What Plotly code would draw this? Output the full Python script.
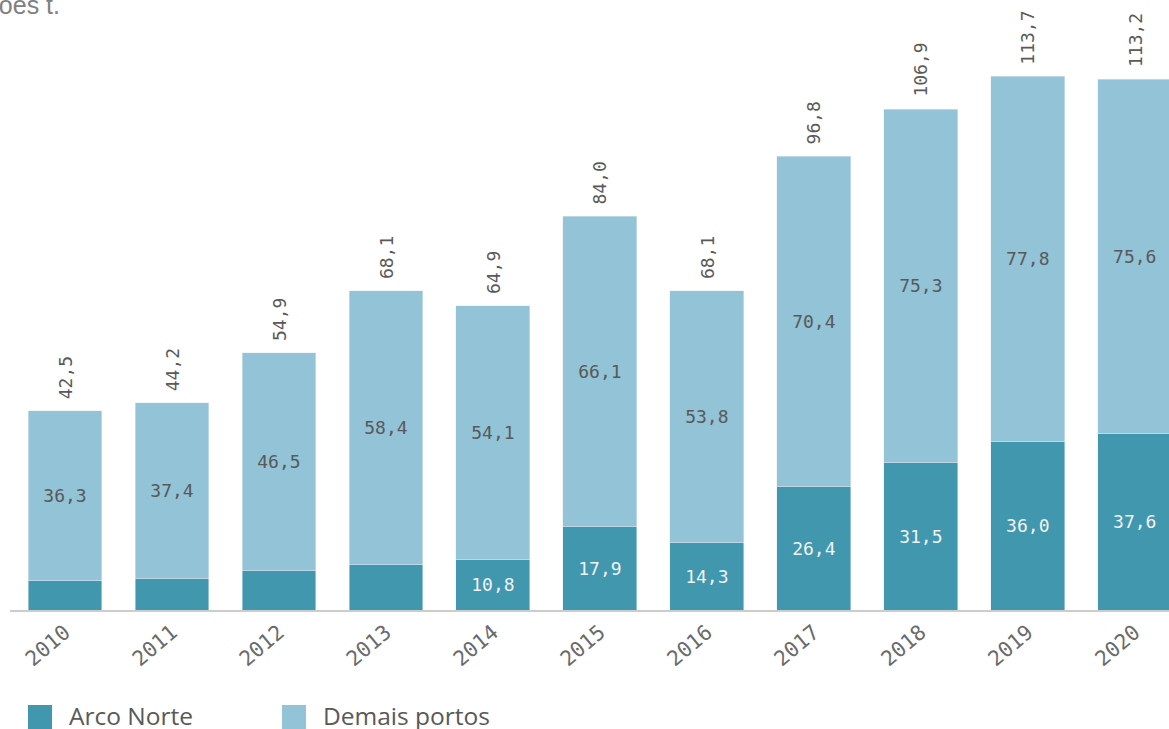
import plotly.graph_objects as go

years = ["2010", "2011", "2012", "2013", "2014", "2015", "2016", "2017", "2018", "2019", "2020"]
arco_norte = [6.2, 6.8, 8.4, 9.7, 10.8, 17.9, 14.3, 26.4, 31.5, 36.0, 37.6]
demais_portos = [36.3, 37.4, 46.5, 58.4, 54.1, 66.1, 53.8, 70.4, 75.3, 77.8, 75.6]
totals = [42.5, 44.2, 54.9, 68.1, 64.9, 84.0, 68.1, 96.8, 106.9, 113.7, 113.2]
show_arco_label = [False, False, False, False, True, True, True, True, True, True, True]

DARK = "#4097AE"
LIGHT = "#92C3D6"
MONO = "DejaVu Sans Mono"


def fmt(v):
    return f"{v:.1f}".replace(".", ",")


arco_text = [fmt(v) if s else "" for v, s in zip(arco_norte, show_arco_label)]
demais_text = [fmt(v) for v in demais_portos]

fig = go.Figure()
fig.add_trace(go.Bar(
    x=years, y=arco_norte, name="Arco Norte", marker_color=DARK,
    text=arco_text, textposition="inside", insidetextanchor="middle", textangle=0,
    insidetextfont=dict(family=MONO, size=18, color="#F2F2F2"),
    hoverinfo="skip",
))
fig.add_trace(go.Bar(
    x=years, y=demais_portos, name="Demais portos", marker_color=LIGHT,
    text=demais_text, textposition="inside", insidetextanchor="middle", textangle=0,
    insidetextfont=dict(family=MONO, size=18, color="#595959"),
    hoverinfo="skip",
))

annotations = []
for i, t in enumerate(totals):
    annotations.append(dict(
        x=i, y=t, xref="x", yref="y", text=fmt(t), textangle=-90,
        showarrow=False, xanchor="center", yanchor="bottom", yshift=10,
        font=dict(family=MONO, size=18, color="#595959"),
    ))

# partially visible axis title at the top-left
annotations.append(dict(
    x=0, y=1, xref="paper", yref="paper", text="Milhões t.", showarrow=False,
    xanchor="left", yanchor="top", xshift=-59, yshift=11,
    font=dict(family="Liberation Sans", size=25, color="#808080"),
))

# legend
legend_items = [("Arco Norte", DARK, 28), ("Demais portos", LIGHT, 282)]
shapes = []
for name, col, px in legend_items:
    x0 = (px - 10) / 1159
    x1 = (px + 24 - 10) / 1159
    shapes.append(dict(type="rect", xref="paper", yref="paper",
                       x0=x0, x1=x1, y0=-(705 - 610) / 610, y1=-(729 - 610) / 610,
                       fillcolor=col, line=dict(width=0)))
    annotations.append(dict(
        x=(px + 39 - 10) / 1159, y=-(715 - 610) / 610, xref="paper", yref="paper",
        text=name, showarrow=False, xanchor="left", yanchor="middle",
        font=dict(family="Open Sans", size=24.5, color="#595959"),
    ))

fig.update_layout(
    barmode="stack",
    bargap=0.31,
    width=1169, height=729,
    margin=dict(l=10, r=0, t=0, b=119),
    paper_bgcolor="white", plot_bgcolor="white",
    showlegend=False,
    uniformtext=dict(minsize=10, mode="show"),
    annotations=annotations,
    shapes=shapes,
    xaxis=dict(
        type="category", range=[-0.514, 10.32], tickangle=-40,
        showline=True, linecolor="#CCCCCC", linewidth=2,
        showgrid=False, ticks="", zeroline=False,
        tickfont=dict(family=MONO, size=21, color="#6A6A6A"),
    ),
    yaxis=dict(range=[0, 130.1], visible=False, showgrid=False, zeroline=False),
)

fig.write_html(
    "out.html",
    config={"displayModeBar": False},
    post_script="document.body.style.margin='0px';document.body.style.overflow='hidden';",
)
